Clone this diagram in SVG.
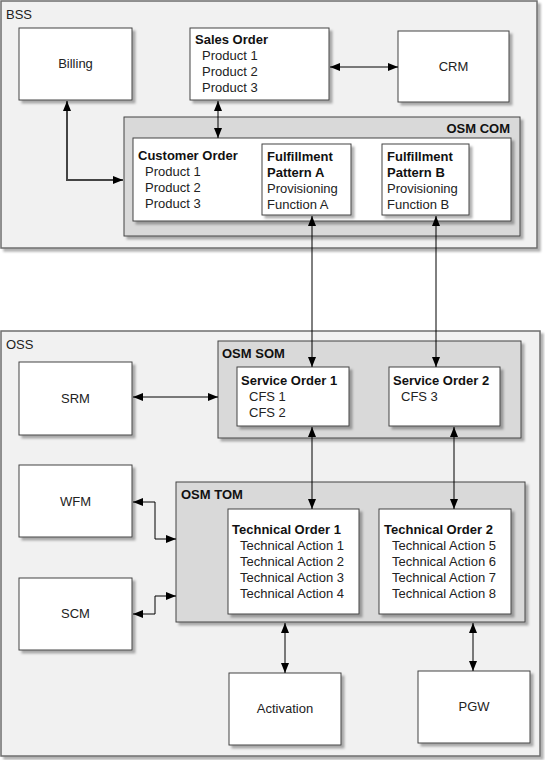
<svg xmlns="http://www.w3.org/2000/svg" width="545" height="760" viewBox="0 0 545 760">
<defs>
<filter id="sh" x="-10%" y="-10%" width="130%" height="130%">
<feDropShadow dx="3" dy="3" stdDeviation="1" flood-color="#000" flood-opacity="0.3"/>
</filter>
<marker id="ah" viewBox="0 0 10 8" refX="10" refY="4" markerWidth="10" markerHeight="8" markerUnits="userSpaceOnUse" orient="auto-start-reverse">
<path d="M0,0 L10,4 L0,8 z" fill="#000"/>
</marker>
<style>
text{font-family:"Liberation Sans",Arial,sans-serif;font-size:13px;fill:#222}
.b{font-weight:bold;fill:#111}
.c{text-anchor:middle}
.outer{fill:#f1f1f1;stroke:#6e6e6e;stroke-width:1.5;filter:url(#sh)}
.grey{fill:#d9d9d9;stroke:#444;stroke-width:1;filter:url(#sh)}
.box{fill:#fff;stroke:#444;stroke-width:1;filter:url(#sh)}
.inner{fill:#fff;stroke:#444;stroke-width:1}
.ln{fill:none;stroke:#000;stroke-width:1;marker-start:url(#ah);marker-end:url(#ah)}
.lnb{fill:none;stroke:#444;stroke-width:2;marker-start:url(#ah);marker-end:url(#ah)}
</style>
</defs>

<g id="bss">
<rect class="outer" x="1" y="1" width="536" height="247"/>
<text x="6" y="19">BSS</text>
</g>
<g id="oss">
<rect class="outer" x="1" y="331" width="539" height="425"/>
<text x="6" y="349">OSS</text>
</g>

<g id="billing">
<rect class="box" x="19" y="28" width="113" height="72"/>
<text class="c" x="75.5" y="68">Billing</text>
</g>
<g id="sales-order">
<rect class="box" x="190" y="28" width="139" height="72"/>
<text class="b" x="195" y="44">Sales Order</text>
<text x="202" y="60">Product 1</text>
<text x="202" y="76">Product 2</text>
<text x="202" y="92">Product 3</text>
</g>
<g id="crm">
<rect class="box" x="398" y="31" width="111" height="71"/>
<text class="c" x="453.5" y="71">CRM</text>
</g>

<g id="osm-com">
<rect class="grey" x="124" y="117" width="396" height="119"/>
<text class="b" x="510" y="133" text-anchor="end">OSM COM</text>
<rect class="inner" x="133" y="138" width="378" height="83" filter="url(#sh)"/>
</g>
<g id="customer-order">
<text class="b" x="138" y="160">Customer Order</text>
<text x="145" y="176">Product 1</text>
<text x="145" y="192">Product 2</text>
<text x="145" y="208">Product 3</text>
</g>
<g id="fulfillment-a">
<rect class="box" x="262" y="144" width="89" height="71"/>
<text class="b" x="267" y="161">Fulfillment</text>
<text class="b" x="267" y="177">Pattern A</text>
<text x="267" y="193">Provisioning</text>
<text x="267" y="209">Function A</text>
</g>
<g id="fulfillment-b">
<rect class="box" x="382" y="144" width="87" height="71"/>
<text class="b" x="387" y="161">Fulfillment</text>
<text class="b" x="387" y="177">Pattern B</text>
<text x="387" y="193">Provisioning</text>
<text x="387" y="209">Function B</text>
</g>

<g id="srm">
<rect class="box" x="19" y="362" width="113" height="73"/>
<text class="c" x="75.5" y="403">SRM</text>
</g>
<g id="wfm">
<rect class="box" x="19" y="465" width="113" height="72"/>
<text class="c" x="75.5" y="506">WFM</text>
</g>
<g id="scm">
<rect class="box" x="19" y="578" width="113" height="72"/>
<text class="c" x="75.5" y="618">SCM</text>
</g>

<g id="osm-som">
<rect class="grey" x="218" y="341" width="303" height="97"/>
<text class="b" x="222" y="358">OSM SOM</text>
</g>
<g id="service-order-1">
<rect class="box" x="237" y="367" width="112" height="59"/>
<text class="b" x="241" y="385">Service Order 1</text>
<text x="249" y="401">CFS 1</text>
<text x="249" y="417">CFS 2</text>
</g>
<g id="service-order-2">
<rect class="box" x="389" y="367" width="111" height="59"/>
<text class="b" x="393" y="385">Service Order 2</text>
<text x="401" y="401">CFS 3</text>
</g>

<g id="osm-tom">
<rect class="grey" x="176" y="482" width="349" height="140"/>
<text class="b" x="181" y="499">OSM TOM</text>
</g>
<g id="technical-order-1">
<rect class="box" x="228" y="509" width="131" height="105"/>
<text class="b" x="232" y="534">Technical Order 1</text>
<text x="240" y="550">Technical Action 1</text>
<text x="240" y="566">Technical Action 2</text>
<text x="240" y="582">Technical Action 3</text>
<text x="240" y="598">Technical Action 4</text>
</g>
<g id="technical-order-2">
<rect class="box" x="379" y="509" width="132" height="105"/>
<text class="b" x="384" y="534">Technical Order 2</text>
<text x="392" y="550">Technical Action 5</text>
<text x="392" y="566">Technical Action 6</text>
<text x="392" y="582">Technical Action 7</text>
<text x="392" y="598">Technical Action 8</text>
</g>

<g id="activation">
<rect class="box" x="229" y="673" width="112" height="72"/>
<text class="c" x="285" y="713">Activation</text>
</g>
<g id="pgw">
<rect class="box" x="418" y="671" width="112" height="72"/>
<text class="c" x="474" y="711">PGW</text>
</g>

<g id="connectors">
<path class="lnb" d="M67,101 V180 H123"/>
<path class="ln" d="M218,101 V138"/>
<path class="ln" d="M330,67 H398"/>
<path class="ln" d="M312,216 V367"/>
<path class="ln" d="M436,216 V367"/>
<path class="ln" d="M133,397 H218"/>
<path class="ln" d="M312,427 V509"/>
<path class="ln" d="M454,427 V509"/>
<path class="ln" d="M133,502 H155 V539 H176"/>
<path class="ln" d="M133,614 H155 V596 H176"/>
<path class="ln" d="M285,623 V673"/>
<path class="ln" d="M473,623 V671"/>
</g>
</svg>
